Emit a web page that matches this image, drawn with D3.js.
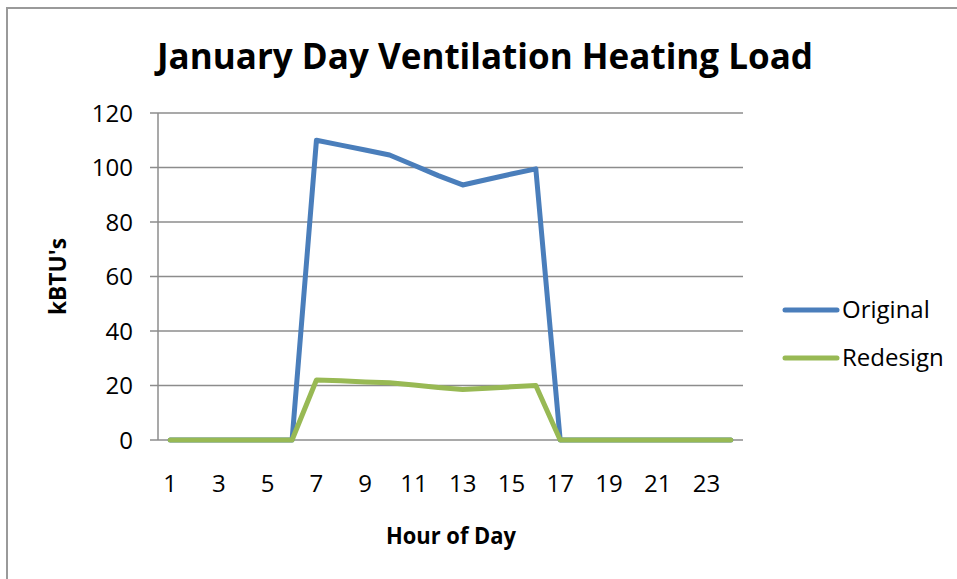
<!DOCTYPE html>
<html>
<head>
<meta charset="utf-8">
<script src="https://cdn.jsdelivr.net/npm/d3@7"></script>
<style>
  body { margin: 0; background: #fff; }
  svg { display: block; font-family: "Open Sans", sans-serif; }
</style>
</head>
<body>
<div id="chart"></div>
<script>
// hours of the day (categories)
const hours = [1, 2, 3, 4, 5, 6, 7, 8, 9, 10, 11, 12, 13, 14, 15, 16, 17, 18, 19, 20, 21, 22, 23, 24];
const hourLabels = [1, 3, 5, 7, 9, 11, 13, 15, 17, 19, 21, 23];
// kBTU's per hour
const original = [0, 0, 0, 0, 0, 0, 110, 108.2, 106.4, 104.6, 100.8, 97, 93.6, 95.6, 97.6, 99.5, 0, 0, 0, 0, 0, 0, 0, 0];
const redesign = [0, 0, 0, 0, 0, 0, 22, 21.7, 21.3, 21, 20.2, 19.3, 18.5, 19, 19.5, 20, 0, 0, 0, 0, 0, 0, 0, 0];
const yTicks = [0, 20, 40, 60, 80, 100, 120];
const seriesNames = ['Original', 'Redesign'];

const width = 957, height = 579;
const plot = { left: 158, right: 743, top: 113, bottom: 440 };
const colors = { Original: '#4a7ebb', Redesign: '#98b954' };

const svg = d3.select('#chart')
    .append('svg')
    .attr('width', width)
    .attr('height', height);

// outer chart border (runs off the right and bottom edges)
svg.append('rect')
    .attr('x', 7).attr('y', 8)
    .attr('width', 970).attr('height', 600)
    .attr('fill', 'none')
    .attr('stroke', '#9a9a9a')
    .attr('stroke-width', 2);

const x = d3.scalePoint()
    .domain(hours)
    .range([plot.left, plot.right])
    .padding(0.5);

const y = d3.scaleLinear()
    .domain([0, 120])
    .range([plot.bottom, plot.top]);

// gridlines
svg.append('g')
    .selectAll('line')
    .data(yTicks)
    .enter()
    .append('line')
    .attr('x1', plot.left - 8)
    .attr('x2', plot.right)
    .attr('y1', d => y(d))
    .attr('y2', d => y(d))
    .attr('stroke', '#8c8c8c')
    .attr('stroke-width', 1.5);

// y axis line
svg.append('line')
    .attr('x1', plot.left).attr('x2', plot.left)
    .attr('y1', plot.top).attr('y2', plot.bottom)
    .attr('stroke', '#8c8c8c')
    .attr('stroke-width', 1.5);

// y tick labels
svg.append('g')
    .selectAll('text')
    .data(yTicks)
    .enter()
    .append('text')
    .attr('x', 133)
    .attr('y', d => y(d) + 8.5)
    .attr('text-anchor', 'end')
    .style('font-size', '24px')
    .text(d => d);

// x tick labels
svg.append('g')
    .selectAll('text')
    .data(hourLabels)
    .enter()
    .append('text')
    .attr('x', d => x(d))
    .attr('y', 492)
    .attr('text-anchor', 'middle')
    .style('font-size', '24px')
    .text(d => d);

// series lines
const line = d3.line()
    .x((d, i) => x(hours[i]))
    .y(d => y(d));

[original, redesign].forEach((values, i) => {
    svg.append('path')
        .datum(values)
        .attr('d', line)
        .attr('fill', 'none')
        .attr('stroke', colors[seriesNames[i]])
        .attr('stroke-width', 5)
        .attr('stroke-linejoin', 'round')
        .attr('stroke-linecap', 'round');
});

// title
svg.append('text')
    .attr('x', 157)
    .attr('y', 69)
    .attr('textLength', 656)
    .attr('lengthAdjust', 'spacingAndGlyphs')
    .style('font-size', '36px')
    .style('font-weight', 'bold')
    .text('January Day Ventilation Heating Load');

// axis titles
svg.append('text')
    .attr('x', 386)
    .attr('y', 544)
    .attr('textLength', 130)
    .attr('lengthAdjust', 'spacingAndGlyphs')
    .style('font-size', '24px')
    .style('font-weight', 'bold')
    .text('Hour of Day');

svg.append('text')
    .attr('transform', 'translate(66, 315) rotate(-90)')
    .attr('textLength', 77)
    .attr('lengthAdjust', 'spacingAndGlyphs')
    .style('font-size', '24px')
    .style('font-weight', 'bold')
    .text("kBTU's");

// legend
const legend = svg.append('g')
    .selectAll('g')
    .data(seriesNames)
    .enter()
    .append('g')
    .attr('transform', (d, i) => `translate(785, ${310 + i * 48})`);

legend.append('line')
    .attr('x1', 0).attr('x2', 52)
    .attr('stroke', d => colors[d])
    .attr('stroke-width', 5)
    .attr('stroke-linecap', 'round');

legend.append('text')
    .attr('x', 57)
    .attr('y', 8)
    .style('font-size', '24px')
    .text(d => d);
</script>
</body>
</html>
